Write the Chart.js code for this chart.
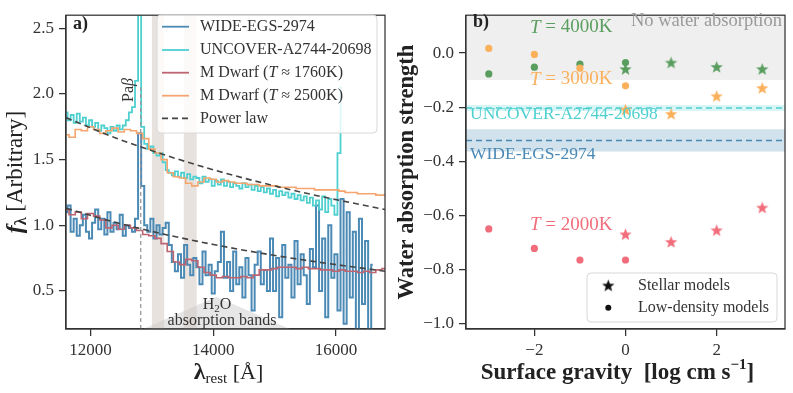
<!DOCTYPE html>
<html>
<head>
<meta charset="utf-8">
<script src="https://cdn.jsdelivr.net/npm/chart.js@4.4.1/dist/chart.umd.min.js"></script>
<style>
  body { margin: 0; background: #fff; }
  #specChart { position: absolute; left: 0; top: 0; }
  #waterChart { position: absolute; left: 396px; top: 0; }
</style>
</head>
<body>
<canvas id="specChart" width="396" height="393"></canvas>
<canvas id="waterChart" width="397" height="393"></canvas>
<script>
// ---- panel a) spectra ----
const wideWave = [11600,11650,11700,11750,11800,11850,11900,11950,12000,12050,
  12100,12150,12200,12250,12300,12350,12400,12450,12500,12550,
  12600,12650,12700,12750,12800,12850,12900,12950,13000,13050,
  13100,13150,13200,13250,13300,13350,13400,13450,13500,13550,
  13600,13650,13700,13750,13800,13850,13900,13950,14000,14050,
  14100,14150,14200,14250,14300,14350,14400,14450,14500,14550,
  14600,14650,14700,14750,14800,14850,14900,14950,15000,15050,
  15100,15150,15200,15250,15300,15350,15400,15450,15500,15550,
  15600,15650,15700,15750,15800,15850,15900,15950,16000,16050,
  16100,16150,16200,16250,16300,16350,16400,16450,16500,16550,16600];
const wideFlux = [1.10,1.15,0.95,1.05,0.92,1.00,1.08,0.95,0.90,1.02,
  1.12,0.97,1.05,0.93,1.10,0.95,1.02,0.97,1.08,0.92,
  1.00,0.98,0.95,1.05,1.70,1.30,1.00,0.95,1.05,0.90,
  1.00,0.93,0.98,1.02,0.85,0.72,0.65,0.78,0.60,0.85,
  0.70,0.62,0.75,0.68,0.55,0.80,0.62,0.70,0.48,0.65,
  0.72,0.95,0.60,0.72,0.50,0.80,0.55,0.68,0.45,0.75,
  0.62,0.35,0.70,0.80,0.55,0.66,0.50,0.90,0.50,0.75,
  0.30,0.85,0.60,0.70,0.45,0.88,0.55,0.78,0.62,0.40,
  0.82,0.68,1.15,0.50,0.90,0.30,1.00,0.60,0.78,0.35,
  1.20,0.25,1.10,0.45,0.95,0.20,1.05,0.40,0.88,0.20,0.70];

const uncoverWave = [11600,11650,11700,11750,11800,11850,11900,11950,12000,12050,
  12100,12150,12200,12250,12300,12350,12400,12450,12500,12550,
  12600,12650,12700,12750,12800,12850,12900,12950,13000,13050,
  13100,13150,13200,13250,13300,13350,13400,13450,13500,13550,
  13600,13650,13700,13750,13800,13850,13900,13950,14000,14050,
  14100,14150,14200,14250,14300,14350,14400,14450,14500,14550,
  14600,14650,14700,14750,14800,14850,14900,14950,15000,15050,
  15100,15150,15200,15250,15300,15350,15400,15450,15500,15550,
  15600,15650,15700,15750,15800,15850,15900,15950,16000,16050,16100];
const uncoverFlux = [1.86,1.80,1.84,1.78,1.85,1.79,1.82,1.76,1.80,1.75,
  1.78,1.72,1.76,1.74,1.70,1.75,1.72,1.76,1.73,1.76,
  1.80,1.86,1.90,2.10,2.90,1.75,1.62,1.58,1.60,1.55,
  1.53,1.55,1.48,1.42,1.40,1.38,1.41,1.37,1.40,1.36,
  1.39,1.35,1.37,1.36,1.32,1.37,1.33,1.35,1.30,1.34,
  1.31,1.35,1.30,1.33,1.29,1.32,1.30,1.28,1.32,1.29,
  1.31,1.27,1.30,1.26,1.29,1.25,1.28,1.24,1.27,1.22,
  1.26,1.23,1.25,1.21,1.24,1.20,1.23,1.19,1.22,1.17,
  1.21,1.15,1.19,1.12,1.22,1.10,1.20,1.15,1.08,1.55,2.05];

const dwarfWave = [11600,11700,11800,11900,12000,12100,12200,12300,12400,12500,
  12600,12700,12800,12900,13000,13100,13200,13300,13400,13500,
  13600,13700,13800,13900,14000,14100,14200,14300,14400,14500,
  14600,14700,14800,14900,15000,15100,15200,15300,15400,15500,
  15600,15700,15800,15900,16000,16100,16200,16300,16400,16500,
  16600,16700,16800];
const dwarf1760Flux = [1.12,1.08,1.10,1.05,1.09,1.07,1.04,0.98,1.00,0.97,
  1.00,0.98,0.96,0.93,0.92,0.90,0.86,0.80,0.72,0.70,
  0.74,0.73,0.68,0.64,0.62,0.60,0.61,0.60,0.60,0.61,
  0.60,0.62,0.66,0.66,0.67,0.68,0.68,0.68,0.67,0.68,
  0.67,0.67,0.66,0.66,0.65,0.66,0.65,0.65,0.64,0.65,
  0.64,0.66,0.67];
const dwarf2500Flux = [1.69,1.67,1.73,1.72,1.75,1.73,1.70,1.72,1.74,1.71,
  1.73,1.72,1.70,1.66,1.58,1.55,1.50,1.40,1.37,1.36,
  1.32,1.30,1.33,1.36,1.35,1.33,1.34,1.33,1.32,1.32,
  1.31,1.31,1.30,1.30,1.30,1.29,1.29,1.29,1.28,1.28,
  1.28,1.27,1.27,1.27,1.27,1.26,1.25,1.25,1.24,1.24,
  1.24,1.23,1.23];

const powerWave = [11600,12400,13200,14000,14800,15600,16800];
const powerUpper = [1.82,1.667,1.537,1.423,1.323,1.235,1.12];
const powerLower = [1.13,1.023,0.932,0.854,0.786,0.727,0.65];

const paBetaWave = 12818;
const paBetaSpan = [0.21, 2.05];
const h2oBands = [[13000, 13200], [13520, 13730]];
const wedgeWave = [12860, 14050, 15250];
const wedgeFlux = [0.21, 0.455, 0.21];

const specXTicks = [12000, 14000, 16000];
const specYTicks = [0.5, 1.0, 1.5, 2.0, 2.5];

// ---- panel b) water absorption ----
const gravityLow = [-3, -2, -1, 0];
const gravityStellar = [0, 1, 2, 3];
const low4000 = [-0.077, -0.052, -0.041, -0.035];
const low3000 = [0.017, -0.005, -0.056, -0.121];
const low2000 = [-0.650, -0.722, -0.765, -0.765];
const stellar4000 = [-0.061, -0.037, -0.053, -0.061];
const stellar3000 = [-0.211, -0.227, -0.161, -0.131];
const stellar2000 = [-0.672, -0.700, -0.657, -0.573];
const noWaterLevel = -0.1;
const uncoverStrength = -0.203, uncoverErr = 0.011;
const wideStrength = -0.323, wideErr = 0.041;
const gravRange = [-3.5, 3.5];
const waterXTicks = [-2, 0, 2];
const waterYTicks = [-1.0, -0.8, -0.6, -0.4, -0.2, 0.0];

const SERIF = "'Liberation Serif', 'DejaVu Serif', serif";
const BLUE = '#4a8ab5', CYAN = '#4fd0d0', RED = '#bd6470', ORANGE = '#f5a56f';
const GREEN = '#5a9e5f', PT_ORANGE = '#fbb05c', PT_RED = '#f26d7b';
const AX = '#333';

Chart.defaults.font.family = SERIF;
Chart.defaults.font.size = 17;
Chart.defaults.color = AX;

const toXY = (xs, ys) => xs.map((x, i) => ({ x: x, y: ys[i] }));
const minus = v => String(v).replace('-', '\u2212');

function drawRich(ctx, parts, x, y, align, color) {
  let w = 0;
  parts.forEach(p => { ctx.font = p[1]; w += ctx.measureText(p[0]).width; });
  let cx = align === 'center' ? x - w / 2 : align === 'right' ? x - w : x;
  ctx.textAlign = 'left';
  ctx.textBaseline = 'middle';
  if (color) ctx.fillStyle = color;
  parts.forEach(p => {
    ctx.font = p[1];
    ctx.fillText(p[0], cx, y + (p[2] || 0));
    cx += ctx.measureText(p[0]).width;
  });
}

function roundRect(ctx, x, y, w, h, r) {
  ctx.beginPath();
  ctx.moveTo(x + r, y);
  ctx.arcTo(x + w, y, x + w, y + h, r);
  ctx.arcTo(x + w, y + h, x, y + h, r);
  ctx.arcTo(x, y + h, x, y, r);
  ctx.arcTo(x, y, x + w, y, r);
  ctx.closePath();
}

function frame(chart) {
  const a = chart.chartArea, ctx = chart.ctx;
  ctx.save();
  ctx.strokeStyle = AX;
  ctx.lineWidth = 1.25;
  ctx.strokeRect(a.left, a.top, a.right - a.left, a.bottom - a.top);
  ctx.restore();
}

function starImg(color, r) {
  const c = document.createElement('canvas');
  const s = Math.ceil(r * 2 + 2);
  c.width = c.height = s;
  const g = c.getContext('2d');
  g.fillStyle = color;
  g.beginPath();
  for (let i = 0; i < 10; i++) {
    const ang = -Math.PI / 2 + i * Math.PI / 5;
    const rr = i % 2 ? r * 0.42 : r;
    g.lineTo(s / 2 + rr * Math.cos(ang), s / 2 + rr * Math.sin(ang));
  }
  g.closePath();
  g.fill();
  return c;
}

const specDecor = {
  id: 'specDecor',
  beforeDatasetsDraw(chart) {
    const ctx = chart.ctx, xs = chart.scales.x, ys = chart.scales.y, a = chart.chartArea;
    ctx.save();
    ctx.fillStyle = 'rgba(195,178,168,0.38)';
    h2oBands.forEach(b => {
      const x0 = xs.getPixelForValue(b[0]), x1 = xs.getPixelForValue(b[1]);
      ctx.fillRect(x0, a.top, x1 - x0, a.bottom - a.top);
    });
    ctx.fillStyle = 'rgba(200,200,200,0.45)';
    ctx.beginPath();
    wedgeWave.forEach((w, i) => ctx.lineTo(xs.getPixelForValue(w), ys.getPixelForValue(wedgeFlux[i])));
    ctx.closePath();
    ctx.fill();
    ctx.restore();
  },
  afterDatasetsDraw(chart) {
    const ctx = chart.ctx, a = chart.chartArea;
    frame(chart);
    ctx.save();
    ctx.fillStyle = '#222';
    drawRich(ctx, [['a)', 'bold 18px ' + SERIF]], 73, 24, 'left');
    // Pa beta label
    ctx.save();
    ctx.translate(129, 90);
    ctx.rotate(-Math.PI / 2);
    drawRich(ctx, [['Pa', '16px ' + SERIF], ['\u03b2', 'italic 16px ' + SERIF]], 0, 0, 'center', '#333');
    ctx.restore();
    drawRich(ctx, [['H', '16px ' + SERIF], ['2', '11px ' + SERIF, 4], ['O', '16px ' + SERIF]], 217, 305, 'center', '#333');
    drawRich(ctx, [['absorption bands', '16px ' + SERIF]], 222, 321, 'center', '#333');

    // legend
    const ds = chart.data.datasets;
    roundRect(ctx, 157, 15, 220, 118, 4);
    ctx.fillStyle = 'rgba(255,255,255,0.82)';
    ctx.fill();
    ctx.strokeStyle = '#d8d8d8';
    ctx.lineWidth = 1;
    ctx.stroke();
    const rows = [26.7, 50, 72.7, 95.7, 118.3];
    const labels = [
      [['WIDE-EGS-2974', '16px ' + SERIF]],
      [['UNCOVER-A2744-20698', '16px ' + SERIF]],
      [['M Dwarf (', '16px ' + SERIF], ['T', 'italic 16px ' + SERIF], [' \u2248 1760K)', '16px ' + SERIF]],
      [['M Dwarf (', '16px ' + SERIF], ['T', 'italic 16px ' + SERIF], [' \u2248 2500K)', '16px ' + SERIF]],
      [['Power law', '16px ' + SERIF]]
    ];
    const legendSets = [ds[0], ds[1], ds[2], ds[3], ds[4]];
    legendSets.forEach((d, i) => {
      ctx.strokeStyle = d.borderColor;
      ctx.lineWidth = 1.8;
      ctx.setLineDash(d.borderDash || []);
      ctx.beginPath();
      ctx.moveTo(162, rows[i]);
      ctx.lineTo(189, rows[i]);
      ctx.stroke();
      ctx.setLineDash([]);
      drawRich(ctx, labels[i], 200, rows[i], 'left', '#333');
    });

    // axis titles
    ctx.save();
    ctx.translate(16, (a.top + a.bottom) / 2);
    ctx.rotate(-Math.PI / 2);
    drawRich(ctx, [['f', 'bold italic 24px ' + SERIF], ['\u03bb', 'bold 16px ' + SERIF, 6], [' [Arbitrary]', '23px ' + SERIF]], 0, 0, 'center', '#222');
    ctx.restore();
    drawRich(ctx, [['\u03bb', 'bold 24px ' + SERIF], ['rest', '15px ' + SERIF, 6], [' [\u00c5]', '22px ' + SERIF]], (a.left + a.right) / 2 + 3, 373, 'center', '#222');
    ctx.restore();
  }
};

new Chart(document.getElementById('specChart'), {
  type: 'line',
  data: {
    datasets: [
      { data: toXY(wideWave, wideFlux), borderColor: BLUE, borderWidth: 2, stepped: 'middle', pointRadius: 0, clip: 0, order: 5 },
      { data: toXY(uncoverWave, uncoverFlux), borderColor: CYAN, borderWidth: 1.8, stepped: 'middle', pointRadius: 0, clip: 0, order: 4 },
      { data: toXY(dwarfWave, dwarf1760Flux), borderColor: RED, borderWidth: 1.6, stepped: 'middle', pointRadius: 0, clip: 0, order: 2 },
      { data: toXY(dwarfWave, dwarf2500Flux), borderColor: ORANGE, borderWidth: 1.6, stepped: 'middle', pointRadius: 0, clip: 0, order: 3 },
      { data: toXY(powerWave, powerUpper), borderColor: '#444', borderWidth: 1.6, borderDash: [6, 4], pointRadius: 0, cubicInterpolationMode: 'monotone', clip: 0, order: 0 },
      { data: toXY(powerWave, powerLower), borderColor: '#444', borderWidth: 1.6, borderDash: [6, 4], pointRadius: 0, cubicInterpolationMode: 'monotone', clip: 0, order: 0 },
      { data: toXY([paBetaWave, paBetaWave], paBetaSpan), borderColor: '#999', borderWidth: 1.3, borderDash: [4, 3], pointRadius: 0, clip: 0, order: 1 }
    ]
  },
  options: {
    responsive: false,
    animation: false,
    events: [],
    layout: { padding: { left: 0, right: 11, top: 7, bottom: 0 } },
    plugins: { legend: { display: false }, tooltip: { enabled: false } },
    scales: {
      x: {
        type: 'linear', min: 11600, max: 16800,
        afterBuildTicks: s => { s.ticks = specXTicks.map(v => ({ value: v })); },
        afterFit: s => { s.height = 64; },
        grid: { drawOnChartArea: false, tickLength: 7, color: AX, lineWidth: 1.25 },
        border: { color: AX, width: 1.25 },
        ticks: { padding: 4, color: AX, maxRotation: 0, callback: v => String(v) }
      },
      y: {
        type: 'linear', min: 0.21, max: 2.6,
        afterBuildTicks: s => { s.ticks = specYTicks.map(v => ({ value: v })); },
        afterFit: s => { s.width = 66; },
        grid: { drawOnChartArea: false, tickLength: 7, color: AX, lineWidth: 1.25 },
        border: { color: AX, width: 1.25 },
        ticks: { padding: 5, color: AX, callback: v => v.toFixed(1) }
      }
    }
  },
  plugins: [specDecor]
});

// ---- panel b) ----
const waterDecor = {
  id: 'waterDecor',
  afterDatasetsDraw(chart) {
    const ctx = chart.ctx, a = chart.chartArea;
    frame(chart);
    ctx.save();
    drawRich(ctx, [['b)', 'bold 18px ' + SERIF]], 77, 22, 'left', '#222');
    drawRich(ctx, [['No water absorption', '18.5px ' + SERIF]], 386, 21.5, 'right', '#9a9a9a');
    const tLab = (txt, y, col) => drawRich(ctx, [['T', 'italic 19px ' + SERIF], [' = ' + txt, '19px ' + SERIF]], 134, y, 'left', col);
    tLab('4000K', 27.5, GREEN);
    tLab('3000K', 79.5, PT_ORANGE);
    tLab('2000K', 225, PT_RED);
    drawRich(ctx, [['UNCOVER-A2744-20698', '17.5px ' + SERIF]], 74, 114.5, 'left', CYAN);
    drawRich(ctx, [['WIDE-EGS-2974', '17.5px ' + SERIF]], 74, 154.5, 'left', BLUE);

    // legend
    roundRect(ctx, 191, 273, 190, 49, 4);
    ctx.fillStyle = 'rgba(255,255,255,0.85)';
    ctx.fill();
    ctx.strokeStyle = '#d8d8d8';
    ctx.lineWidth = 1;
    ctx.stroke();
    const st = starImg('#111', 6.5);
    ctx.drawImage(st, 212.3 - st.width / 2, 286 - st.height / 2);
    ctx.fillStyle = '#111';
    ctx.beginPath();
    ctx.arc(212.3, 307.7, 3, 0, Math.PI * 2);
    ctx.fill();
    drawRich(ctx, [['Stellar models', '16px ' + SERIF]], 242, 286, 'left', '#333');
    drawRich(ctx, [['Low-density models', '16px ' + SERIF]], 242, 307.7, 'left', '#333');

    // axis titles
    ctx.save();
    ctx.translate(11, (a.top + a.bottom) / 2);
    ctx.rotate(-Math.PI / 2);
    drawRich(ctx, [['Water absorption strength', 'bold 22.5px ' + SERIF]], 0, 0, 'center', '#222');
    ctx.restore();
    drawRich(ctx, [['Surface gravity  ', 'bold 23px ' + SERIF], ['[log cm s', 'bold 23px ' + SERIF], ['\u22121', 'bold 15px ' + SERIF, -8], [']', 'bold 23px ' + SERIF]], (a.left + a.right) / 2 - 8, 373, 'center', '#222');
    ctx.restore();
  }
};

const flatLine = (y) => toXY(gravRange, [y, y]);

new Chart(document.getElementById('waterChart'), {
  type: 'scatter',
  data: {
    datasets: [
      { type: 'line', data: flatLine(noWaterLevel), fill: 'end', backgroundColor: '#efefef', borderWidth: 0, pointRadius: 0, order: 20 },
      { type: 'line', data: flatLine(uncoverStrength - uncoverErr), fill: { value: uncoverStrength + uncoverErr }, backgroundColor: 'rgba(79,208,208,0.22)', borderWidth: 0, pointRadius: 0, order: 19 },
      { type: 'line', data: flatLine(wideStrength - wideErr), fill: { value: wideStrength + wideErr }, backgroundColor: 'rgba(74,138,181,0.25)', borderWidth: 0, pointRadius: 0, order: 18 },
      { type: 'line', data: flatLine(uncoverStrength), borderColor: CYAN, borderWidth: 1.6, borderDash: [6, 4], pointRadius: 0, order: 17 },
      { type: 'line', data: flatLine(wideStrength), borderColor: BLUE, borderWidth: 1.6, borderDash: [6, 4], pointRadius: 0, order: 16 },
      { data: toXY(gravityLow, low4000), pointStyle: 'circle', pointRadius: 3.6, backgroundColor: GREEN, borderWidth: 0, order: 5 },
      { data: toXY(gravityLow, low3000), pointStyle: 'circle', pointRadius: 3.6, backgroundColor: PT_ORANGE, borderWidth: 0, order: 4 },
      { data: toXY(gravityLow, low2000), pointStyle: 'circle', pointRadius: 3.6, backgroundColor: PT_RED, borderWidth: 0, order: 3 },
      { data: toXY(gravityStellar, stellar4000), pointStyle: starImg(GREEN, 6.5), order: 2 },
      { data: toXY(gravityStellar, stellar3000), pointStyle: starImg(PT_ORANGE, 6.5), order: 1 },
      { data: toXY(gravityStellar, stellar2000), pointStyle: starImg(PT_RED, 6.5), order: 0 }
    ]
  },
  options: {
    responsive: false,
    animation: false,
    events: [],
    layout: { padding: { left: 0, right: 8, top: 7, bottom: 0 } },
    plugins: { legend: { display: false }, tooltip: { enabled: false } },
    scales: {
      x: {
        type: 'linear', min: gravRange[0], max: gravRange[1],
        afterBuildTicks: s => { s.ticks = waterXTicks.map(v => ({ value: v })); },
        afterFit: s => { s.height = 64; },
        grid: { drawOnChartArea: false, tickLength: 7, color: AX, lineWidth: 1.25 },
        border: { color: AX, width: 1.25 },
        ticks: { padding: 4, color: AX, maxRotation: 0, callback: v => minus(v) }
      },
      y: {
        type: 'linear', min: -1.02, max: 0.14,
        afterBuildTicks: s => { s.ticks = waterYTicks.map(v => ({ value: v })); },
        afterFit: s => { s.width = 70; },
        grid: { drawOnChartArea: false, tickLength: 7, color: AX, lineWidth: 1.25 },
        border: { color: AX, width: 1.25 },
        ticks: { padding: 5, color: AX, callback: v => minus(v.toFixed(1)) }
      }
    }
  },
  plugins: [waterDecor]
});
</script>
</body>
</html>
